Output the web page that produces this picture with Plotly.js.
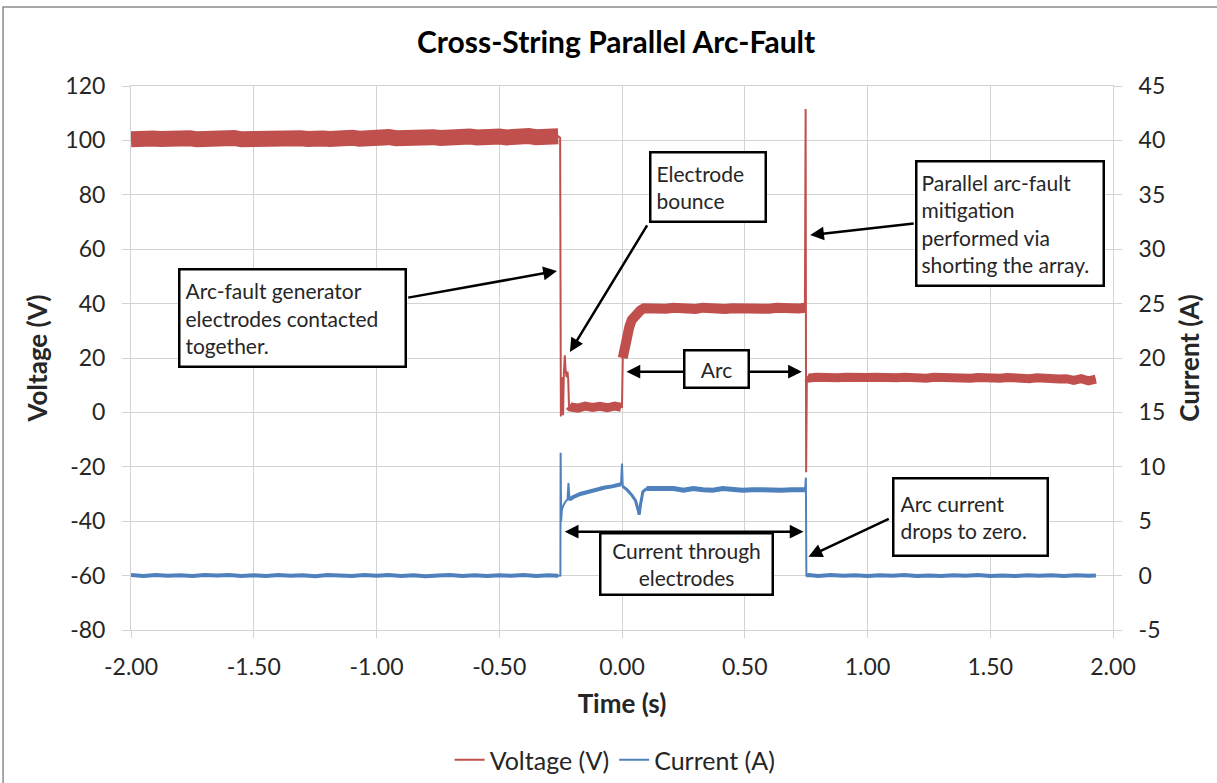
<!DOCTYPE html>
<html>
<head>
<meta charset="utf-8">
<script src="https://cdn.plot.ly/plotly-3.0.1.min.js"></script>
<style>html,body{margin:0;padding:0;background:#fff;}#chart{width:1217px;height:783px;}</style>
</head>
<body>
<div id="chart"></div>
<script>
// ---------- DATA ----------
const chartTitle = "Cross-String Parallel Arc-Fault";
const xTitle = "Time (s)";
const yLeftTitle = "Voltage (V)";
const yRightTitle = "Current (A)";
const seriesNames = ["Voltage (V)", "Current (A)"];

const xTickVals = [-2, -1.5, -1, -0.5, 0, 0.5, 1, 1.5, 2];
const xTickLabels = ["-2.00", "-1.50", "-1.00", "-0.50", "0.00", "0.50", "1.00", "1.50", "2.00"];
const yLeftTickVals = [-80, -60, -40, -20, 0, 20, 40, 60, 80, 100, 120];
const yLeftTickLabels = ["-80", "-60", "-40", "-20", "0", "20", "40", "60", "80", "100", "120"];
const yRightTickVals = [-5, 0, 5, 10, 15, 20, 25, 30, 35, 40, 45];
const yRightTickLabels = ["-5", "0", "5", "10", "15", "20", "25", "30", "35", "40", "45"];

// Voltage (V) vs time (s)
const voltTime = [
  -2.00,-1.97,-1.94,-1.91,-1.88,-1.85,-1.82,-1.79,-1.76,-1.73,-1.70,-1.67,-1.64,-1.61,-1.58,-1.55,-1.52,-1.49,-1.46,-1.43,
  -1.40,-1.37,-1.34,-1.31,-1.28,-1.25,-1.22,-1.19,-1.16,-1.13,-1.10,-1.07,-1.04,-1.01,-0.98,-0.95,-0.92,-0.89,-0.86,-0.83,
  -0.80,-0.77,-0.74,-0.71,-0.68,-0.65,-0.62,-0.59,-0.56,-0.53,-0.50,-0.47,-0.44,-0.41,-0.38,-0.35,-0.32,-0.29,-0.26,
  -0.252,-0.249,-0.246,-0.243,-0.240,-0.237,-0.233,-0.230,-0.226,-0.222,-0.219,-0.216,
  -0.21,-0.18,-0.15,-0.12,-0.09,-0.06,-0.03,-0.004,
  0.000,0.003,0.01,0.02,0.03,0.04,0.05,0.06,0.075,
  0.09,0.12,0.15,0.18,0.21,0.24,0.27,0.30,0.33,0.36,0.39,0.42,0.45,0.48,0.51,0.54,0.57,0.60,0.63,0.66,0.69,0.72,0.745,
  0.748,0.750,0.753,
  0.76,0.79,0.82,0.85,0.88,0.91,0.94,0.97,1.00,1.03,1.06,1.09,1.12,1.15,1.18,1.21,1.24,1.27,1.30,1.33,
  1.36,1.39,1.42,1.45,1.48,1.51,1.54,1.57,1.60,1.63,1.66,1.69,1.72,1.75,1.78,1.81,1.84,1.87,1.90,1.93
];
const voltValue = [
  100.4,100.9,100.2,100.7,100.5,100.9,100.3,100.6,100.8,100.4,100.7,100.3,100.8,100.5,100.9,100.4,100.6,100.9,100.5,100.8,
  100.4,100.9,100.6,100.8,100.5,101.0,100.7,100.5,101.0,100.7,101.0,100.6,101.1,100.8,100.9,101.2,100.8,101.1,100.9,101.3,
  101.0,101.2,100.9,101.3,101.1,100.9,101.4,101.1,101.5,101.2,101.4,101.1,101.6,101.3,101.6,101.2,101.6,101.4,101.5,
  101.0,-1.5,13.0,10.0,-1.0,14.0,21.0,16.0,13.0,15.0,12.0,2.5,
  2.0,1.6,2.3,1.8,2.2,1.7,2.3,1.9,
  2.0,20.0,24.5,28.5,31.5,34.0,35.5,36.5,37.5,
  38.3,38.0,38.4,38.1,38.5,38.2,38.4,38.0,38.5,38.2,38.4,38.0,38.3,38.1,38.5,38.0,38.3,38.1,38.5,38.2,38.4,38.2,38.5,
  111.5,-22.0,13.0,
  12.6,12.9,12.6,13.0,12.7,12.9,12.6,13.0,12.8,12.9,12.6,13.0,12.7,12.9,12.6,12.9,12.6,12.9,12.7,12.8,
  12.5,12.9,12.6,12.8,12.5,12.8,12.6,12.8,12.5,12.7,12.4,12.7,12.4,12.6,12.3,12.4,11.8,12.4,11.6,12.2
];

// Current (A) vs time (s)
const currTime = [
  -2.00,-1.95,-1.90,-1.85,-1.80,-1.75,-1.70,-1.65,-1.60,-1.55,-1.50,-1.45,-1.40,-1.35,-1.30,-1.25,-1.20,-1.15,-1.10,-1.05,
  -1.00,-0.95,-0.90,-0.85,-0.80,-0.75,-0.70,-0.65,-0.60,-0.55,-0.50,-0.45,-0.40,-0.35,-0.30,-0.26,
  -0.251,-0.250,-0.248,-0.245,-0.240,-0.230,-0.222,-0.218,-0.214,
  -0.20,-0.17,-0.14,-0.10,-0.07,-0.04,-0.004,
  0.000,0.003,0.02,0.04,0.055,0.065,0.070,0.076,0.085,0.10,
  0.13,0.17,0.21,0.25,0.29,0.33,0.37,0.41,0.45,0.49,0.53,0.57,0.61,0.65,0.69,0.73,0.746,
  0.749,0.751,
  0.76,0.80,0.85,0.90,0.95,1.00,1.05,1.10,1.15,1.20,1.25,1.30,1.35,1.40,1.45,1.50,1.55,1.60,1.65,1.70,
  1.75,1.80,1.85,1.90,1.93
];
const currValue = [
  0.05,-0.03,0.06,-0.02,0.04,-0.04,0.05,0.00,0.06,-0.03,0.03,-0.04,0.05,-0.02,0.04,-0.05,0.06,0.01,-0.04,0.05,
  -0.01,0.06,-0.03,0.04,-0.05,0.02,0.06,-0.03,0.04,-0.04,0.03,-0.02,0.05,-0.03,0.03,-0.02,
  0.0,11.3,5.0,6.0,6.4,6.8,7.0,8.5,7.0,
  7.2,7.5,7.7,7.9,8.1,8.2,8.4,
  10.3,8.2,7.9,7.4,6.9,6.1,5.6,6.6,7.7,8.0,
  8.0,7.9,8.0,7.85,8.0,7.9,7.85,8.0,7.9,7.85,7.9,7.85,7.9,7.85,7.9,7.85,7.9,
  9.0,0.0,
  0.05,-0.03,0.05,-0.02,0.04,-0.04,0.03,-0.02,0.05,-0.03,0.02,-0.04,0.04,-0.01,0.05,-0.03,0.02,-0.04,0.04,-0.02,
  0.03,-0.04,0.03,-0.02,0.02
];

// ---------- STYLE ----------
const RED = "#C0504D", BLUE = "#4F81BD";
const FONT = "Lato, 'Open Sans', sans-serif";
const TXT = "#262626";
const GRID = "#D3D3D3";

function seg(t, v, a, b) {
  const xs = [], ys = [];
  for (let i = 0; i < t.length; i++) if (t[i] >= a && t[i] <= b) { xs.push(t[i]); ys.push(v[i]); }
  return {x: xs, y: ys};
}

const traces = [];
[[-2.0,-0.255,16],[-0.216,-0.003,9],[0.002,0.746,10],[0.752,1.93,9]].forEach(s => {
  const d = seg(voltTime, voltValue, s[0], s[1]);
  traces.push({x: d.x, y: d.y, type: "scatter", mode: "lines", showlegend: false, hoverinfo: "skip",
    line: {color: RED, width: s[2]}, yaxis: "y"});
});
traces.push({x: voltTime, y: voltValue, name: seriesNames[0], type: "scatter", mode: "lines",
  line: {color: RED, width: 2}, yaxis: "y"});
[[-2.0,-0.252,4],[-0.214,-0.003,4],[0.003,0.1,3],[0.1,0.746,5],[0.751,1.93,4]].forEach(s => {
  const d = seg(currTime, currValue, s[0], s[1]);
  traces.push({x: d.x, y: d.y, type: "scatter", mode: "lines", showlegend: false, hoverinfo: "skip",
    line: {color: BLUE, width: s[2]}, yaxis: "y2"});
});
traces.push({x: currTime, y: currValue, name: seriesNames[1], type: "scatter", mode: "lines",
  line: {color: BLUE, width: 2}, yaxis: "y2"});

const afont = {family: FONT, size: 21, color: TXT};
function arrow(tx, ty, hx, hy, both) {
  return {x: hx, y: hy, ax: tx, ay: ty, xref: "x", yref: "y", axref: "x", ayref: "y",
    text: "", showarrow: true, arrowhead: 2, arrowsize: 1.1, arrowwidth: 2.5, arrowcolor: "#000",
    startarrowhead: 2, startarrowsize: 1.1, arrowside: both ? "end+start" : "end"};
}
function box(cx, cy, text, w, h, pad, align) {
  const bw = 2.5;
  return {x: cx, y: cy, xref: "x", yref: "y", text: text, showarrow: false, font: afont,
    bgcolor: "#fff", bordercolor: "#000", borderwidth: bw, borderpad: pad,
    width: w - 2 * (bw + pad), height: h - 2 * (bw + pad), align: align, valign: "middle",
    xanchor: "center", yanchor: "middle"};
}

const annotations = [
  arrow(-0.877, 42.1, -0.265, 52.0, false),
  arrow(0.106, 69.3, -0.212, 22.2, false),
  arrow(0.0122, 14.96, 0.7327, 14.96, true),
  arrow(1.1945, 69.5, 0.7666, 65.2, false),
  arrow(-0.2393, -43.85, 0.7393, -43.85, true),
  arrow(1.0927, -38.9, 0.7597, -53.05, false),
  box(-1.3435, 34.7, "Arc-fault generator<br>electrodes contacted<br>together.", 229, 100, 5, "left"),
  box(0.3486, 82.7, "Electrode<br>bounce", 118, 72, 5, "left"),
  box(0.3861, 15.85, "Arc", 67, 40, 3, "center"),
  box(1.582, 69.6, "Parallel arc-fault<br>mitigation<br>performed via<br>shorting the array.", 190, 127, 4, "left"),
  box(0.261, -55.6, "Current through<br>electrodes", 175, 64, 1, "center"),
  box(1.419, -38.6, "Arc current<br>drops to zero.", 157, 80, 6, "left")
];

const tickFont = {family: FONT, size: 23, color: TXT};
const titleFont = {family: FONT, size: 26, color: TXT, weight: "bold"};

const layout = {
  width: 1217, height: 783,
  margin: {l: 131, r: 104, t: 86, b: 153, autoexpand: false},
  paper_bgcolor: "#fff", plot_bgcolor: "#fff",
  title: {text: "<b>" + chartTitle + "</b>", font: {family: FONT, size: 30, color: "#000"},
    x: 0.494, xref: "paper", y: 0.946, yref: "container", xanchor: "center", yanchor: "middle"},
  xaxis: {range: [-2, 2], tickmode: "array", tickvals: xTickVals, ticktext: xTickLabels,
    showgrid: true, gridcolor: GRID, zeroline: false, showline: true, linecolor: GRID, mirror: true,
    ticks: "outside", ticklen: 7, tickcolor: GRID, ticklabelstandoff: 9, tickfont: tickFont,
    title: {text: "<b>" + xTitle + "</b>", font: titleFont, standoff: 16}},
  yaxis: {range: [-80, 120], tickmode: "array", tickvals: yLeftTickVals, ticktext: yLeftTickLabels,
    showgrid: true, gridcolor: GRID, zeroline: false,
    showline: true, linecolor: GRID, ticks: "outside", ticklen: 8, tickcolor: GRID,
    ticklabelstandoff: 12, tickfont: tickFont,
    title: {text: "<b>" + yLeftTitle + "</b>", font: titleFont, standoff: 10}},
  yaxis2: {range: [-5, 45], tickmode: "array", tickvals: yRightTickVals, ticktext: yRightTickLabels,
    overlaying: "y", side: "right", showgrid: false, zeroline: false,
    showline: true, linecolor: GRID, ticks: "outside", ticklen: 8, tickcolor: GRID,
    ticklabelstandoff: 12, tickfont: tickFont,
    title: {text: "<b>" + yRightTitle + "</b>", font: titleFont, standoff: 16}},
  legend: {orientation: "h", x: 0.493, xanchor: "center", y: -0.239, yanchor: "middle",
    font: {family: FONT, size: 25, color: TXT}, itemwidth: 30, traceorder: "normal"},
  annotations: annotations,
  shapes: [{type: "rect", xref: "paper", yref: "paper", x0: -0.1303, x1: 1.3, y0: -0.5, y1: 1.1452,
    line: {color: "#8c8c8c", width: 1.5}, fillcolor: "rgba(0,0,0,0)", layer: "below"}]
};

Plotly.newPlot("chart", traces, layout, {displayModeBar: false, staticPlot: true});
</script>
</body>
</html>
